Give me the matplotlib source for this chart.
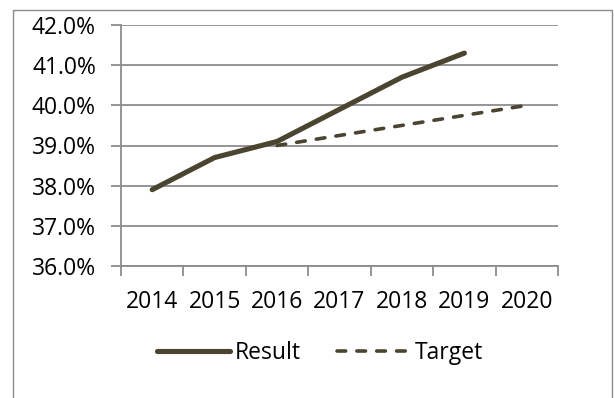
import matplotlib.pyplot as plt
import numpy as np
from matplotlib.patches import Rectangle
from matplotlib.ticker import FuncFormatter, FixedLocator

years = ["2014", "2015", "2016", "2017", "2018", "2019", "2020"]
result = [37.9, 38.7, 39.1, 39.9, 40.7, 41.3, None]
target = [None, None, 39.0, 39.25, 39.5, 39.75, 40.0]

line_color = "#4a4430"
grid_color = "#8c8c8c"

plt.rcParams["font.family"] = ["Open Sans", "DejaVu Sans"]

fig = plt.figure(figsize=(6.14, 3.98), dpi=100)
ax = fig.add_axes([121 / 614, 1 - 266 / 398, 437 / 614, 241 / 398])

x = np.arange(len(years))
res = np.array([np.nan if v is None else v for v in result])
tgt = np.array([np.nan if v is None else v for v in target])

ax.plot(x, res, color=line_color, lw=3.7, solid_capstyle="round", label="Result")
ax.plot(x, tgt, color=line_color, lw=2.6, ls=(0, (2.4, 3.1)),
        dash_capstyle="round", label="Target")

ax.set_xlim(-0.5, 6.5)
ax.set_ylim(36, 42)
ax.set_yticks(np.arange(36, 42.1, 1))
ax.yaxis.set_major_formatter(FuncFormatter(lambda v, p: f"{v:.1f}%"))
ax.grid(axis="y", color=grid_color, lw=1.3)
ax.set_axisbelow(True)

ax.set_xticks(x)
ax.set_xticklabels(years)
ax.xaxis.set_minor_locator(FixedLocator(np.arange(-0.5, 6.6, 1)))
ax.tick_params(axis="x", which="major", length=0, pad=17.5, labelsize=16.5)
ax.tick_params(axis="x", which="minor", length=7, width=1.3, color=grid_color)
ax.tick_params(axis="y", length=7, width=1.3, color=grid_color, labelsize=16.5, pad=11)

for s in ["top", "right"]:
    ax.spines[s].set_visible(False)
for s in ["left", "bottom"]:
    ax.spines[s].set_color(grid_color)
    ax.spines[s].set_linewidth(1.3)

fig.legend(loc="center", bbox_to_anchor=(320 / 614, 1 - 353 / 398), ncol=2,
           frameon=False, fontsize=16.5, handlelength=3.2, columnspacing=1.6,
           handletextpad=0.2)

fig.patches.append(Rectangle((12.5 / 614, -0.1), 599.5 / 614, 1.1 - 9.5 / 398,
                             transform=fig.transFigure, fill=False,
                             edgecolor=grid_color, lw=1.0))

fig.savefig("out.png", dpi=100)
